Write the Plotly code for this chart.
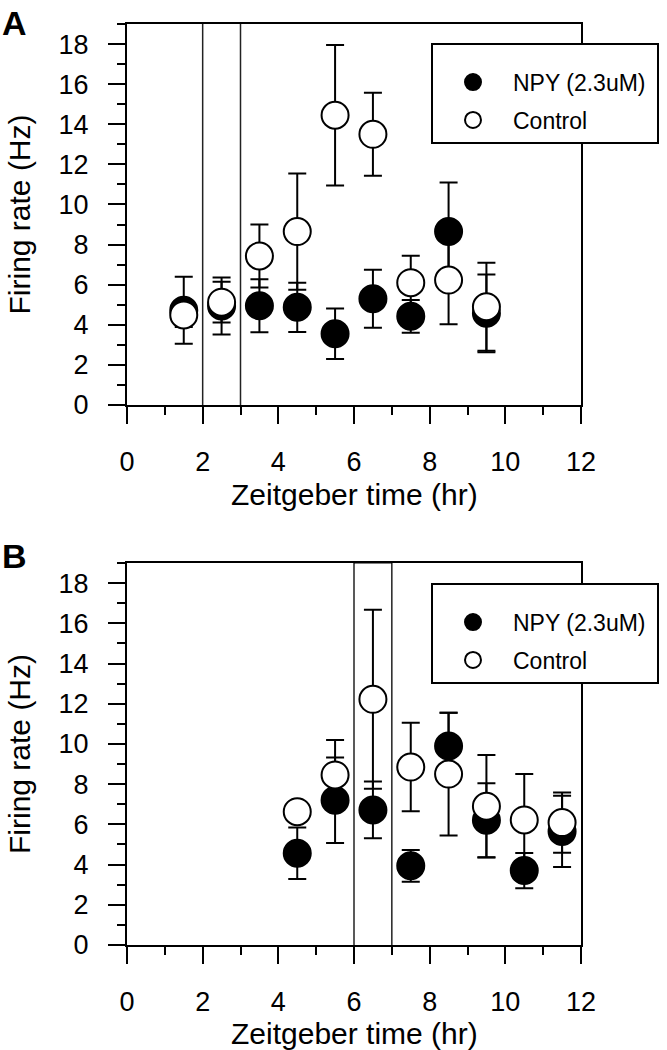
import plotly.graph_objects as go

# ---------------- data ----------------
time_A = [1.5, 2.5, 3.5, 4.5, 5.5, 6.5, 7.5, 8.5, 9.5]
npy_A = [4.73, 4.94, 4.95, 4.87, 3.55, 5.30, 4.42, 8.65, 4.57]
npy_err_A = [1.67, 1.42, 1.32, 1.23, 1.26, 1.45, 0.82, 2.45, 1.94]
ctrl_A = [4.49, 5.13, 7.43, 8.65, 14.45, 13.50, 6.10, 6.23, 4.90]
ctrl_err_A = [0.60, 1.02, 1.57, 2.90, 3.50, 2.07, 1.34, 2.20, 2.19]

time_B = [4.5, 5.5, 6.5, 7.5, 8.5, 9.5, 10.5, 11.5]
npy_B = [4.56, 7.20, 6.72, 3.94, 9.90, 6.20, 3.70, 5.65]
npy_err_B = [1.28, 2.13, 1.41, 0.79, 1.65, 1.84, 0.88, 1.77]
ctrl_B = [6.63, 8.46, 12.22, 8.85, 8.50, 6.90, 6.22, 6.09]
ctrl_err_B = [0.50, 1.74, 4.45, 2.20, 3.05, 2.55, 2.29, 1.50]

window_A = [2, 3]
window_B = [6, 7]

x_tickvals = [0, 2, 4, 6, 8, 10, 12]
y_tickvals = [0, 2, 4, 6, 8, 10, 12, 14, 16, 18]
series_names = ["NPY (2.3uM)", "Control"]

FONT = "Arial, 'Liberation Sans', sans-serif"
W, H = 667, 1050


def px(v):
    return v / W


def py(v):
    return 1 - v / H


fig = go.Figure()


def add_panel(t, npy, npy_err, ctrl, ctrl_err, xa, ya, legend):
    common = dict(mode="markers", xaxis=xa, yaxis=ya, legend=legend, cliponaxis=False)
    fig.add_trace(go.Scatter(
        x=t, y=npy, name=series_names[0] + "\u00a0", legendgroup=legend + "a",
        marker=dict(size=27, color="black", line=dict(color="black", width=2)),
        error_y=dict(type="data", array=npy_err, color="black", thickness=2, width=9),
        **common))
    fig.add_trace(go.Scatter(
        x=t, y=ctrl, name=series_names[1], legendgroup=legend + "b",
        marker=dict(size=27, color="white", line=dict(color="black", width=2)),
        error_y=dict(type="data", array=ctrl_err, color="black", thickness=2, width=9),
        **common))


add_panel(time_A, npy_A, npy_err_A, ctrl_A, ctrl_err_A, "x", "y", "legend")
add_panel(time_B, npy_B, npy_err_B, ctrl_B, ctrl_err_B, "x2", "y2", "legend2")

xdom = [px(127), px(581)]
ydomA = [py(405), py(24)]
ydomB = [py(945), py(563)]


def xaxis(anchor):
    return dict(domain=xdom, anchor=anchor, range=[0, 12], tickvals=x_tickvals,
                showline=True, linecolor="black", linewidth=2, mirror=True,
                ticks="outside", ticklen=17, tickwidth=1.5, tickcolor="black",
                minor=dict(dtick=1, ticks="outside", ticklen=8, tickwidth=1.5, tickcolor="black"),
                ticklabelstandoff=15, showgrid=False, zeroline=False, automargin=False,
                tickfont=dict(family=FONT, size=27, color="black"))


def yaxis(anchor, dom):
    return dict(domain=dom, anchor=anchor, range=[0, 19], tickvals=y_tickvals,
                showline=True, linecolor="black", linewidth=2, mirror=True,
                ticks="outside", ticklen=17, tickwidth=1.5, tickcolor="black",
                minor=dict(dtick=1, ticks="outside", ticklen=8, tickwidth=1.5, tickcolor="black"),
                ticklabelstandoff=14, showgrid=False, zeroline=False, automargin=False,
                tickfont=dict(family=FONT, size=27, color="black"))


legend_style = dict(font=dict(family=FONT, size=23, color="black"),
                    bordercolor="black", borderwidth=2, bgcolor="white",
                    xanchor="left", yanchor="top", tracegroupgap=5,
                    traceorder="grouped", itemsizing="trace", itemwidth=70,
                    title=dict(text="\u00a0", font=dict(family=FONT, size=12)))

shapes = []
for xv in window_A:
    shapes.append(dict(type="line", xref="x", yref="y", x0=xv, x1=xv, y0=0, y1=19,
                       line=dict(color="#222", width=1.5), layer="below"))
for xv in window_B:
    shapes.append(dict(type="line", xref="x2", yref="y2", x0=xv, x1=xv, y0=0, y1=19,
                       line=dict(color="#222", width=1.5), layer="below"))
shapes.append(dict(type="line", xref="x2", yref="y2", x0=window_B[0], x1=window_B[1],
                   y0=19.05, y1=19.05, line=dict(color="black", width=3)))

annotations = []
for label, yc in [("A", 23), ("B", 556)]:
    annotations.append(dict(text="<b>%s</b>" % label, xref="paper", yref="paper",
                            x=0, y=py(yc), xanchor="left", yanchor="middle", showarrow=False,
                            font=dict(family=FONT, size=34, color="black")))
for yc in [214.5, 754]:
    annotations.append(dict(text="Firing rate (Hz)", xref="paper", yref="paper",
                            x=px(19), y=py(yc), xanchor="center", yanchor="middle",
                            textangle=-90, showarrow=False,
                            font=dict(family=FONT, size=30, color="black")))
for yc in [494, 1033]:
    annotations.append(dict(text="Zeitgeber time (hr)", xref="paper", yref="paper",
                            x=px(354), y=py(yc), xanchor="center", yanchor="middle",
                            showarrow=False,
                            font=dict(family=FONT, size=30, color="black")))

fig.update_layout(
    width=W, height=H,
    margin=dict(l=0, r=0, t=0, b=0),
    paper_bgcolor="white", plot_bgcolor="white",
    xaxis=xaxis("y"), yaxis=yaxis("x", ydomA),
    xaxis2=xaxis("y2"), yaxis2=yaxis("x2", ydomB),
    legend=dict(x=px(431), y=py(43), **legend_style),
    legend2=dict(x=px(431), y=py(583), **legend_style),
    shapes=shapes, annotations=annotations,
    showlegend=True,
)

fig.write_html(
    "out.html",
    config={"displayModeBar": False},
    post_script="document.body.style.margin='0';document.body.style.overflow='hidden';",
)
